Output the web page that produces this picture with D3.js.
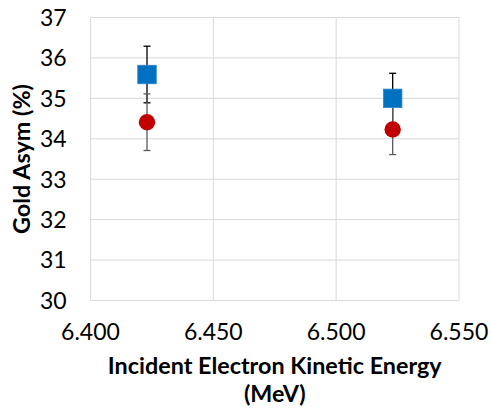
<!DOCTYPE html>
<html><head><meta charset="utf-8">
<script src="https://cdn.jsdelivr.net/npm/d3@7"></script>
<style>html,body{margin:0;padding:0;background:#fff;}svg{display:block;}</style>
</head><body>
<script>
// ---- data ----
const energies = [6.423, 6.523];
const blueValues = [35.59, 35.00];
const blueErrors = [0.70, 0.62];
const redValues = [34.41, 34.23];
const redErrors = [0.70, 0.62];
const yTicks = [30, 31, 32, 33, 34, 35, 36, 37];
const xTicks = [6.400, 6.450, 6.500, 6.550];
const xTitleLines = ["Incident Electron Kinetic Energy", "(MeV)"];
const yTitle = "Gold Asym (%)";

const W = 492, H = 411;
const m = {left: 90.5, right: 33, top: 17.5, bottom: 110.5};
const font = "Lato, 'Open Sans', sans-serif";

const svg = d3.select("body").append("svg").attr("width", W).attr("height", H);
const x = d3.scaleLinear().domain([6.400, 6.550]).range([m.left, W - m.right]);
const y = d3.scaleLinear().domain([30, 37]).range([H - m.bottom, m.top]);

// gridlines
svg.append("g").selectAll("line").data(yTicks).join("line")
  .attr("x1", m.left).attr("x2", W - m.right)
  .attr("y1", d => y(d)).attr("y2", d => y(d))
  .attr("stroke", "#d9d9d9").attr("stroke-width", 1);
svg.append("g").selectAll("line").data(xTicks).join("line")
  .attr("y1", m.top).attr("y2", H - m.bottom)
  .attr("x1", d => x(d)).attr("x2", d => x(d))
  .attr("stroke", "#d9d9d9").attr("stroke-width", 1);

// tick labels
svg.append("g").selectAll("text").data(yTicks).join("text")
  .attr("x", 66.7).attr("y", d => y(d) + 8.3)
  .attr("text-anchor", "end").attr("font-family", font).attr("font-size", 23)
  .attr("fill", "#000").text(d3.format("d"));
svg.append("g").selectAll("text").data(xTicks).join("text")
  .attr("x", d => x(d)).attr("y", 340)
  .attr("text-anchor", "middle").attr("font-family", font).attr("font-size", 23)
  .attr("fill", "#000").text(d3.format(".3f"));

// error bars
function errorBars(vals, errs, color) {
  const g = svg.append("g").attr("stroke", color).attr("stroke-width", 1.3);
  energies.forEach((e, i) => {
    const cx = x(e), y0 = y(vals[i] - errs[i]), y1 = y(vals[i] + errs[i]);
    g.append("line").attr("x1", cx).attr("x2", cx).attr("y1", y0).attr("y2", y1);
    g.append("line").attr("x1", cx - 3.5).attr("x2", cx + 3.5).attr("y1", y0).attr("y2", y0);
    g.append("line").attr("x1", cx - 3.5).attr("x2", cx + 3.5).attr("y1", y1).attr("y2", y1);
  });
}
errorBars(blueValues, blueErrors, "#000000");
errorBars(redValues, redErrors, "#595959");

// markers
const sq = 18.5;
svg.append("g").selectAll("rect").data(energies).join("rect")
  .attr("x", d => x(d) - sq / 2).attr("y", (d, i) => y(blueValues[i]) - sq / 2)
  .attr("width", sq).attr("height", sq)
  .attr("fill", "#0070c0").attr("stroke", "#2e86c9").attr("stroke-width", 0.8);
svg.append("g").selectAll("circle").data(energies).join("circle")
  .attr("cx", d => x(d)).attr("cy", (d, i) => y(redValues[i])).attr("r", 8.2)
  .attr("fill", "#c00000");

// axis titles (slightly condensed to mimic a narrow bold face)
const tfs = 23;
const cx = (m.left + W - m.right) / 2;
const xg = svg.append("g").attr("transform", `translate(${cx},0)`);
const xt = xg.append("text").attr("font-family", font).attr("font-weight", "bold")
  .attr("font-size", tfs).attr("text-anchor", "middle").attr("fill", "#000");
xt.selectAll("tspan").data(xTitleLines).join("tspan")
  .attr("x", 0).attr("y", (d, i) => 374 + i * 28).text(d => d);
const len = xt.select("tspan").node().getComputedTextLength();
const sx = 334 / len;
xg.attr("transform", `translate(${cx},0) scale(${sx},1)`);

svg.append("text").attr("font-family", font).attr("font-weight", "bold")
  .attr("font-size", tfs).attr("text-anchor", "middle").attr("fill", "#000")
  .attr("transform", `translate(30,${(m.top + H - m.bottom) / 2}) rotate(-90) scale(${sx},1)`)
  .text(yTitle);
</script>
</body></html>
